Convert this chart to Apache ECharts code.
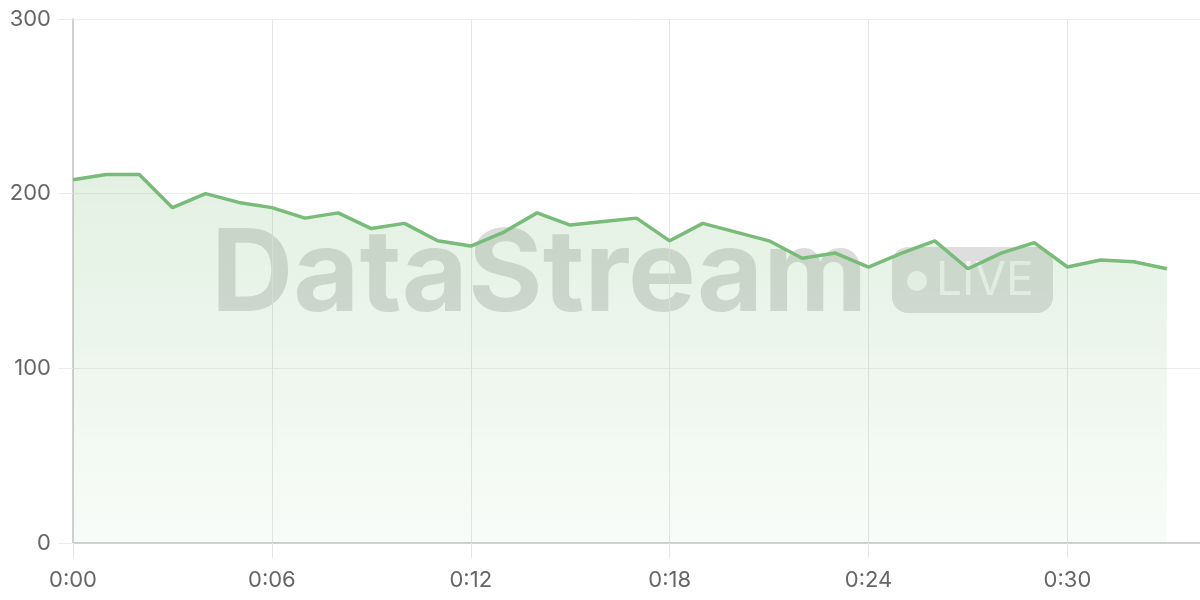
<!DOCTYPE html>
<html>
<head>
<meta charset="utf-8">
<script src="https://cdn.jsdelivr.net/npm/echarts@6/dist/echarts.min.js"></script>
<style>
  html, body { margin: 0; padding: 0; background: #fff; }
  #chart { width: 1200px; height: 600px; }
</style>
</head>
<body>
<div id="chart"></div>
<script>
// minutes along the bottom, one slot past the last reading
const minutes = [];
for (let m = 0; m <= 34; m++) minutes.push('0:' + String(m).padStart(2, '0'));

// readings, one per minute
const readings = [208, 211, 211, 192, 200, 195, 192, 186, 189, 180, 183, 173, 170, 178, 189, 182, 184,
  186, 173, 183, 178, 173, 163, 166, 158, 166, 173, 157, 166, 172, 158, 162, 161, 157];

const yTicks = [0, 100, 200, 300];

const chart = echarts.init(document.getElementById('chart'));

const option = {
  animation: false,
  grid: { left: 73, right: 0, top: 19, bottom: 57 },
  graphic: [
    {
      type: 'text',
      z: -1,
      left: 211,
      top: 220,
      style: {
        text: 'DataStream',
        font: 'bold 114px Inter',
        fill: 'rgba(0,0,0,0.14)'
      }
    },
    {
      type: 'group',
      z: -1,
      left: 892,
      top: 247,
      children: [
        {
          type: 'rect',
          shape: { x: 0, y: 0, width: 161, height: 66, r: 16 },
          style: { fill: 'rgba(0,0,0,0.13)' }
        },
        {
          type: 'circle',
          shape: { cx: 25, cy: 34, r: 10 },
          style: { fill: 'rgba(255,255,255,0.75)' }
        },
        {
          type: 'text',
          style: {
            x: 44, y: 34,
            text: 'LIVE',
            font: '46px Inter',
            fill: 'rgba(255,255,255,0.7)',
            verticalAlign: 'middle'
          }
        }
      ]
    }
  ],
  xAxis: {
    type: 'category',
    data: minutes,
    boundaryGap: false,
    axisLine: { lineStyle: { color: '#d0d0d0', width: 2 } },
    axisTick: { interval: 5, length: 15, lineStyle: { color: '#e6e6e6' } },
    axisLabel: {
      interval: 5,
      color: '#666',
      fontFamily: 'Inter',
      fontSize: 22,
      margin: 26
    },
    splitLine: { show: true, interval: 5, lineStyle: { color: '#e6e6e6' } }
  },
  yAxis: {
    type: 'value',
    min: yTicks[0],
    max: yTicks[yTicks.length - 1],
    interval: 100,
    axisLine: { show: true, lineStyle: { color: '#d0d0d0', width: 2 } },
    axisTick: { show: true, length: 15, lineStyle: { color: '#ececec' } },
    axisLabel: {
      color: '#666',
      fontFamily: 'Inter',
      fontSize: 22,
      margin: 22
    },
    splitLine: { lineStyle: { color: '#ececec' } }
  },
  series: [
    {
      type: 'line',
      data: readings,
      showSymbol: false,
      z: 5,
      lineStyle: { color: '#79bb79', width: 3.5 },
      itemStyle: { color: '#79bb79' },
      areaStyle: {
        color: new echarts.graphic.LinearGradient(0, 0, 0, 1, [
          { offset: 0, color: 'rgba(121,187,121,0.3)' },
          { offset: 1, color: 'rgba(121,187,121,0.07)' }
        ])
      }
    }
  ]
};

chart.setOption(option);
</script>
</body>
</html>
